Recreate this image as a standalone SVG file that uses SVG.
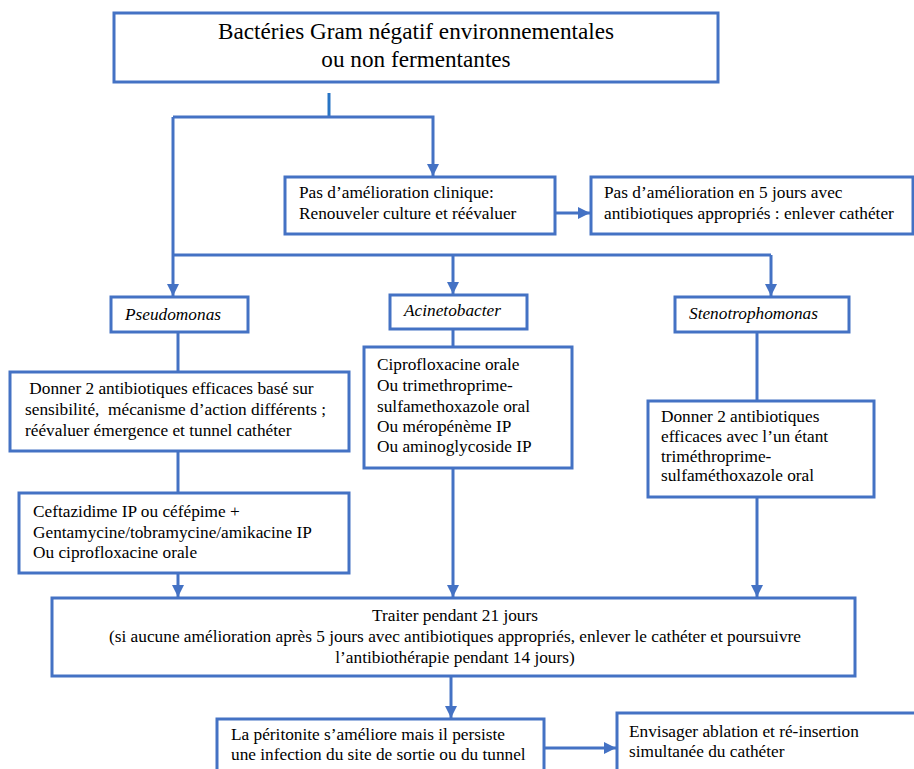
<svg xmlns="http://www.w3.org/2000/svg" width="914" height="769" viewBox="0 0 914 769">
<defs>
<marker id="arr" markerUnits="userSpaceOnUse" markerWidth="12" markerHeight="12" viewBox="0 0 12 12" refX="12" refY="6" orient="auto">
<path d="M0,0 L12,6 L0,12 Z" fill="#4472C4"/>
</marker>
</defs>
<style>
.box{fill:#fff;stroke:#4472C4;stroke-width:3}
.ln{fill:none;stroke:#4472C4;stroke-width:3}
.ar{fill:none;stroke:#4472C4;stroke-width:3;marker-end:url(#arr)}
text{font-family:"Liberation Serif","Times New Roman",serif;font-size:17.3px;fill:#000}
.big{font-size:23.2px}
.it{font-style:italic}
.c{text-anchor:middle}
</style>
<rect width="914" height="769" fill="#fff"/>
<g id="connectors">
<line x1="329" y1="93" x2="329" y2="117" stroke="#2874C4" stroke-width="3"/>
<polyline class="ar" points="173,117 433,117 433,176"/>
<line class="ln" x1="173" y1="117" x2="173" y2="255"/>
<line class="ar" x1="555" y1="213" x2="590" y2="213"/>
<line class="ln" x1="173" y1="255" x2="771" y2="255"/>
<line class="ar" x1="173" y1="255" x2="173" y2="296"/>
<line class="ar" x1="453" y1="255" x2="453" y2="294"/>
<line class="ar" x1="771" y1="255" x2="771" y2="296"/>
<line class="ln" x1="178" y1="332" x2="178" y2="372"/>
<line class="ln" x1="178" y1="451" x2="178" y2="493"/>
<line class="ar" x1="178" y1="573" x2="178" y2="597"/>
<line class="ln" x1="453" y1="329" x2="453" y2="347"/>
<line class="ar" x1="453" y1="468" x2="453" y2="597"/>
<line class="ln" x1="757" y1="332" x2="757" y2="401"/>
<line class="ar" x1="757" y1="497" x2="757" y2="597"/>
<line class="ar" x1="451" y1="676" x2="451" y2="718"/>
<line class="ar" x1="544" y1="748" x2="616" y2="748"/>
</g>
<g id="n-top">
<rect class="box" x="114" y="13" width="604" height="69"/>
<text class="big c" x="416" y="39">Bactéries Gram négatif environnementales</text>
<text class="big c" x="416" y="67">ou non fermentantes</text>
</g>
<g id="n-noimp">
<rect class="box" x="285" y="177" width="270" height="57"/>
<text x="299" y="198">Pas d’amélioration clinique:</text>
<text x="299" y="219">Renouveler culture et réévaluer</text>
</g>
<g id="n-5jours">
<rect class="box" x="591" y="177" width="322" height="57"/>
<text x="604" y="198">Pas d’amélioration en 5 jours avec</text>
<text x="604" y="219">antibiotiques appropriés : enlever cathéter</text>
</g>
<g id="n-pseudo">
<rect class="box" x="111" y="297" width="137" height="35"/>
<text class="it" x="125" y="320">Pseudomonas</text>
</g>
<g id="n-pseudo-2ab">
<rect class="box" x="10" y="372" width="339" height="79"/>
<text x="25" y="394" xml:space="preserve"> Donner 2 antibiotiques efficaces basé sur</text>
<text x="25" y="415" xml:space="preserve">sensibilité,  mécanisme d’action différents ;</text>
<text x="25" y="436">réévaluer émergence et tunnel cathéter</text>
</g>
<g id="n-ceftaz">
<rect class="box" x="19" y="493" width="330" height="80"/>
<text x="33" y="517">Ceftazidime IP ou céfépime +</text>
<text x="33" y="538">Gentamycine/tobramycine/amikacine IP</text>
<text x="33" y="558">Ou ciprofloxacine orale</text>
</g>
<g id="n-acineto">
<rect class="box" x="390" y="295" width="137" height="34"/>
<text class="it" x="404" y="316">Acinetobacter</text>
</g>
<g id="n-cipro">
<rect class="box" x="364" y="347" width="208" height="121"/>
<text x="377" y="370">Ciprofloxacine orale</text>
<text x="377" y="391">Ou trimethroprime-</text>
<text x="377" y="412">sulfamethoxazole oral</text>
<text x="377" y="432">Ou méropénème IP</text>
<text x="377" y="452">Ou aminoglycoside IP</text>
</g>
<g id="n-steno">
<rect class="box" x="675" y="297" width="174" height="35"/>
<text class="it" x="689" y="319">Stenotrophomonas</text>
</g>
<g id="n-steno-2ab">
<rect class="box" x="648" y="401" width="226" height="96"/>
<text x="661" y="422">Donner 2 antibiotiques</text>
<text x="661" y="442">efficaces avec l’un étant</text>
<text x="661" y="462">triméthroprime-</text>
<text x="661" y="481">sulfaméthoxazole oral</text>
</g>
<g id="n-21j">
<rect class="box" x="52" y="598" width="803" height="78"/>
<text class="c" x="455" y="621">Traiter pendant 21 jours</text>
<text class="c" x="455" y="642">(si aucune amélioration après 5 jours avec antibiotiques appropriés, enlever le cathéter et poursuivre</text>
<text class="c" x="455" y="663">l’antibiothérapie pendant 14 jours)</text>
</g>
<g id="n-perit">
<rect class="box" x="217" y="719" width="327" height="70"/>
<text x="231" y="740">La péritonite s’améliore mais il persiste</text>
<text x="231" y="760">une infection du site de sortie ou du tunnel</text>
</g>
<g id="n-ablation">
<rect class="box" x="617" y="713" width="310" height="70"/>
<text x="629" y="737">Envisager ablation et ré-insertion</text>
<text x="629" y="757">simultanée du cathéter</text>
</g>
</svg>
